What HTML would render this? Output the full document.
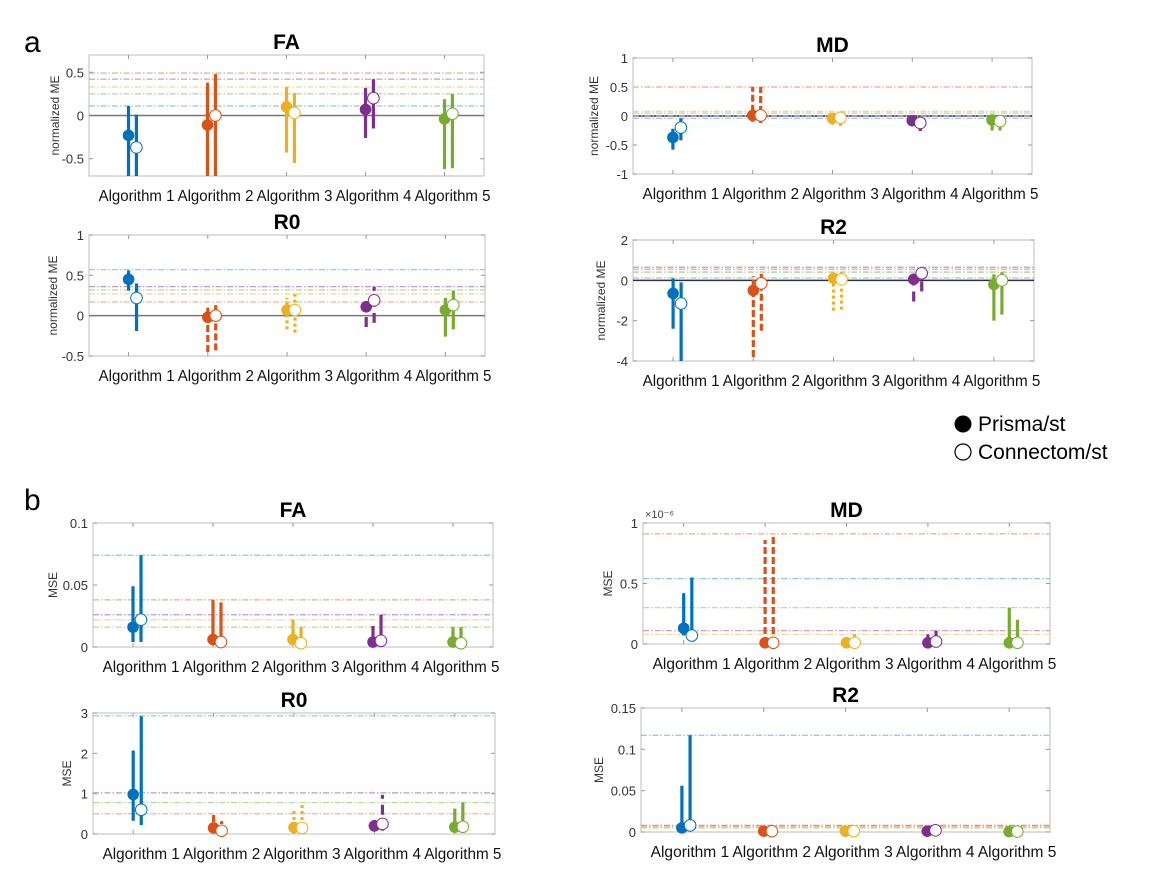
<!DOCTYPE html>
<html><head><meta charset="utf-8"><style>
body{margin:0;background:#fff;}
svg{display:block;font-family:"Liberation Sans",sans-serif;}
</style></head><body>
<svg id="fig" width="1152" height="882" viewBox="0 0 1152 882">
<text x="24" y="52" font-size="30">a</text>
<text x="24" y="510" font-size="30">b</text>
<g>
<circle cx="963" cy="424" r="8.5" fill="#000"/>
<text x="978" y="431" font-size="21">Prisma/st</text>
<circle cx="963" cy="452" r="8" fill="#fff" stroke="#000" stroke-width="1.2"/>
<text x="978" y="459" font-size="21">Connectom/st</text>
</g>
</svg>
<script>
const categories = ["Algorithm  1","Algorithm 2","Algorithm 3","Algorithm 4","Algorithm 5"];
const colors = ["#0072BD","#D95319","#EDB120","#7E2F8E","#77AC30"];
const refColors = ["#8fc3e6","#f0a98c","#f3d68f","#c196c8","#b9d597"];

// a-FA
const aFA_p = [-0.23,-0.11,0.10,0.07,-0.04];
const aFA_pLo = [-0.7,-0.7,-0.43,-0.26,-0.62];
const aFA_pHi = [0.11,0.38,0.33,0.32,0.19];
const aFA_c = [-0.37,0.0,0.03,0.20,0.02];
const aFA_cLo = [-0.7,-0.7,-0.55,-0.15,-0.61];
const aFA_cHi = [0.01,0.48,0.26,0.42,0.25];
const aFA_ref = [0.11,0.49,0.33,0.42,0.25];
const aFA_ticks = [-0.5,0,0.5];
// a-MD
const aMD_p = [-0.37,0.01,-0.04,-0.08,-0.07];
const aMD_pLo = [-0.58,-0.1,-0.15,-0.17,-0.25];
const aMD_pHi = [-0.22,0.5,0.03,0.0,0.0];
const aMD_c = [-0.2,0.01,-0.03,-0.12,-0.09];
const aMD_cLo = [-0.42,-0.12,-0.17,-0.26,-0.25];
const aMD_cHi = [-0.04,0.5,0.07,-0.03,0.0];
const aMD_ref = [-0.04,0.5,0.08,0.0,0.05];
const aMD_ticks = [-1,-0.5,0,0.5,1];
// a-R0
const aR0_p = [0.45,-0.02,0.07,0.11,0.07];
const aR0_pLo = [0.31,-0.45,-0.17,-0.14,-0.26];
const aR0_pHi = [0.56,0.1,0.22,0.24,0.22];
const aR0_c = [0.22,0.0,0.07,0.19,0.13];
const aR0_cLo = [-0.19,-0.43,-0.21,-0.09,-0.17];
const aR0_cHi = [0.4,0.13,0.27,0.36,0.31];
const aR0_ref = [0.57,0.17,0.27,0.36,0.32];
const aR0_ticks = [-0.5,0,0.5,1];
// a-R2
const aR2_p = [-0.65,-0.5,0.1,0.05,-0.2];
const aR2_pLo = [-2.4,-3.8,-1.5,-1.05,-2.0];
const aR2_pHi = [0.1,0.2,0.3,0.4,0.3];
const aR2_c = [-1.15,-0.15,0.05,0.35,0.0];
const aR2_cLo = [-4.0,-2.5,-1.45,-0.55,-1.7];
const aR2_cHi = [-0.1,0.4,0.4,0.3,0.4];
const aR2_ref = [0.12,0.55,0.42,0.65,0.4];
const aR2_ticks = [-4,-2,0,2];
// b-FA
const bFA_p = [0.016,0.006,0.006,0.004,0.004];
const bFA_pLo = [0.004,0.003,0.003,0.001,0.001];
const bFA_pHi = [0.049,0.038,0.022,0.017,0.016];
const bFA_c = [0.022,0.004,0.003,0.005,0.003];
const bFA_cLo = [0.004,0.002,0.001,0.001,0.001];
const bFA_cHi = [0.074,0.036,0.016,0.026,0.016];
const bFA_ref = [0.074,0.038,0.022,0.026,0.016];
const bFA_ticks = [0,0.05,0.1];
// b-MD (x1e-6)
const bMD_p = [0.13,0.01,0.01,0.01,0.01];
const bMD_pLo = [0.07,0,0,0,0];
const bMD_pHi = [0.42,0.86,0.05,0.08,0.3];
const bMD_c = [0.07,0.01,0.01,0.02,0.01];
const bMD_cLo = [0.02,0,0,0,0];
const bMD_cHi = [0.55,0.91,0.08,0.11,0.2];
const bMD_ref = [0.54,0.91,0.08,0.11,0.3];
const bMD_ticks = [0,0.5,1];
// b-R0
const bR0_p = [0.98,0.15,0.16,0.2,0.17];
const bR0_pLo = [0.33,0.05,0.05,0.1,0.05];
const bR0_pHi = [2.07,0.5,0.57,0.35,0.63];
const bR0_c = [0.6,0.08,0.15,0.25,0.18];
const bR0_cLo = [0.22,0.0,0.05,0.08,0.05];
const bR0_cHi = [2.92,0.32,0.72,0.97,0.78];
const bR0_ref = [2.93,0.5,0.78,1.02,0.78];
const bR0_ticks = [0,1,2,3];
// b-R2
const bR2_p = [0.005,0.001,0.001,0.001,0.0005];
const bR2_pLo = [0.002,0,0,0,0];
const bR2_pHi = [0.056,0.003,0.003,0.004,0.002];
const bR2_c = [0.008,0.001,0.001,0.002,0.0005];
const bR2_cLo = [0.001,0,0,0,0];
const bR2_cHi = [0.117,0.003,0.003,0.008,0.002];
const bR2_ref = [0.117,0.007,0.006,0.008,0.005];
const bR2_ticks = [0,0.05,0.1,0.15];

const NS="http://www.w3.org/2000/svg";
const svg=document.getElementById('fig');
function mk(tag,attrs,parent){const e=document.createElementNS(NS,tag);for(const k in attrs)e.setAttribute(k,attrs[k]);(parent||svg).appendChild(e);return e;}
const DASH={solid:"",dash:"7 3",dot:"3 3",gap:"10 6"};

function panel(cfg){
  const g=mk('g',{});
  
  
  const {x0,x1,y0,y1,ymin,ymax}=cfg;
  const sx=v=>x0+(v-0.5)/5*(x1-x0);
  const sy=v=>y1-(v-ymin)/(ymax-ymin)*(y1-y0);
  const box=mk('rect',{x:x0,y:y0,width:x1-x0,height:y1-y0,fill:'#fff',stroke:'#c8c8c8','stroke-width':1.2},g);
  
  
  cfg.ticks.forEach(t=>{
    const y=sy(t);
    mk('line',{x1:x0,x2:x0+4,y1:y,y2:y,stroke:'#999'},g);
    mk('line',{x1:x1-4,x2:x1,y1:y,y2:y,stroke:'#999'},g);
    const tl=mk('text',{x:x0-5,y:y+5,'font-size':13,fill:'#333','text-anchor':'end'},g);
    tl.textContent=String(t);
    
    
  });
  if(cfg.exp){const ex=mk('text',{x:x0+2,y:y0-5,'font-size':11,fill:'#444'},g);ex.textContent='×10⁻⁶';
    }
  const sp=(x1-x0)/5;
  categories.forEach((c,i)=>{
    const x=sx(i+1);
    mk('line',{x1:x,x2:x,y1:y0,y2:y0+4,stroke:'#999'},g);
    mk('line',{x1:x,x2:x,y1:y1-4,y2:y1,stroke:'#999'},g);
    const tl=mk('text',{x:x+8-sp*0.48,y:y1+25,'font-size':16,fill:'#111',textLength:sp*0.96,lengthAdjust:'spacingAndGlyphs'},g);
    tl.textContent=c;
    
    
  });
  if(ymin<0&&ymax>0){mk('line',{x1:x0,x2:x1,y1:sy(0),y2:sy(0),stroke:cfg.zeroCol||'#777','stroke-width':1.5},g);}
  cfg.ref.forEach((v,i)=>{
    const l=mk('line',{x1:x0,x2:x1,y1:sy(v),y2:sy(v),stroke:refColors[i],'stroke-width':1.2,'stroke-dasharray':'6 2 1.5 2'},g);
    
    
  });
  const dx=sp*0.1;
  const clip=v=>Math.max(ymin,Math.min(ymax,v));
  categories.forEach((c,i)=>{
    const st=DASH[cfg.styles[i]];
    const xp=sx(i+1), xc=xp+dx;
    const e1=mk('line',{x1:xp,x2:xp,y1:sy(clip(cfg.pLo[i])),y2:sy(clip(cfg.pHi[i])),stroke:colors[i],'stroke-width':3.2,'stroke-dasharray':st},g);
    
    
    const e2=mk('line',{x1:xc,x2:xc,y1:sy(clip(cfg.cLo[i])),y2:sy(clip(cfg.cHi[i])),stroke:colors[i],'stroke-width':3.2,'stroke-dasharray':st},g);
    
    
    const m1=mk('circle',{cx:xp,cy:sy(cfg.p[i]),r:5.8,fill:colors[i]},g);
    
    
    const m2=mk('circle',{cx:xc,cy:sy(cfg.c[i]),r:5.8,fill:'#fff',stroke:colors[i],'stroke-width':1},g);
    
    
  });
  const t=mk('text',{x:(x0+x1)/2,y:y0-6,'font-size':21,'font-weight':'bold','text-anchor':'middle'},g);
  t.textContent=cfg.title;
  
  
  const yl=mk('text',{x:0,y:0,'font-size':12,fill:'#333','text-anchor':'middle',transform:`translate(${cfg.ylx},${(y0+y1)/2}) rotate(-90)`},g);
  yl.textContent=cfg.ylabel;
  
  
}
const S5=['solid','solid','solid','solid','solid'];
panel({name:'a-fa-chart',title:'FA',ylabel:'normalized ME',ylx:59,x0:89,x1:484,y0:55,y1:176,ymin:-0.7,ymax:0.7,ticks:aFA_ticks,p:aFA_p,pLo:aFA_pLo,pHi:aFA_pHi,c:aFA_c,cLo:aFA_cLo,cHi:aFA_cHi,ref:aFA_ref,styles:S5});
panel({name:'a-md-chart',title:'MD',ylabel:'normalized ME',ylx:598,x0:633,x1:1032,y0:58,y1:174,ymin:-1,ymax:1,ticks:aMD_ticks,p:aMD_p,pLo:aMD_pLo,pHi:aMD_pHi,c:aMD_c,cLo:aMD_cLo,cHi:aMD_cHi,ref:aMD_ref,styles:['solid','dash','solid','solid','solid'],zeroCol:'#333'});
panel({name:'a-r0-chart',title:'R0',ylabel:'normalized ME',ylx:57,x0:89,x1:485,y0:235,y1:356,ymin:-0.5,ymax:1,ticks:aR0_ticks,p:aR0_p,pLo:aR0_pLo,pHi:aR0_pHi,c:aR0_c,cLo:aR0_cLo,cHi:aR0_cHi,ref:aR0_ref,styles:['solid','dash','dot','gap','solid']});
panel({name:'a-r2-chart',title:'R2',ylabel:'normalized ME',ylx:605,x0:633,x1:1034,y0:240,y1:361,ymin:-4,ymax:2,ticks:aR2_ticks,p:aR2_p,pLo:aR2_pLo,pHi:aR2_pHi,c:aR2_c,cLo:aR2_cLo,cHi:aR2_cHi,ref:aR2_ref,styles:['solid','dash','dot','gap','solid'],zeroCol:'#333'});
panel({name:'b-fa-chart',title:'FA',ylabel:'MSE',ylx:57,x0:93,x1:493,y0:523,y1:647,ymin:0,ymax:0.1,ticks:bFA_ticks,p:bFA_p,pLo:bFA_pLo,pHi:bFA_pHi,c:bFA_c,cLo:bFA_cLo,cHi:bFA_cHi,ref:bFA_ref,styles:S5});
panel({name:'b-md-chart',title:'MD',ylabel:'MSE',ylx:612,x0:643,x1:1050,y0:523,y1:644,ymin:0,ymax:1,ticks:bMD_ticks,p:bMD_p,pLo:bMD_pLo,pHi:bMD_pHi,c:bMD_c,cLo:bMD_cLo,cHi:bMD_cHi,ref:bMD_ref,styles:['solid','dash','solid','solid','solid'],exp:true});
panel({name:'b-r0-chart',title:'R0',ylabel:'MSE',ylx:71,x0:93,x1:495,y0:713,y1:834,ymin:0,ymax:3,ticks:bR0_ticks,p:bR0_p,pLo:bR0_pLo,pHi:bR0_pHi,c:bR0_c,cLo:bR0_cLo,cHi:bR0_cHi,ref:bR0_ref,styles:['solid','dash','dot','gap','solid']});
panel({name:'b-r2-chart',title:'R2',ylabel:'MSE',ylx:603,x0:641,x1:1050,y0:708,y1:832,ymin:0,ymax:0.15,ticks:bR2_ticks,p:bR2_p,pLo:bR2_pLo,pHi:bR2_pHi,c:bR2_c,cLo:bR2_cLo,cHi:bR2_cHi,ref:bR2_ref,styles:S5});
</script>
</body></html>
